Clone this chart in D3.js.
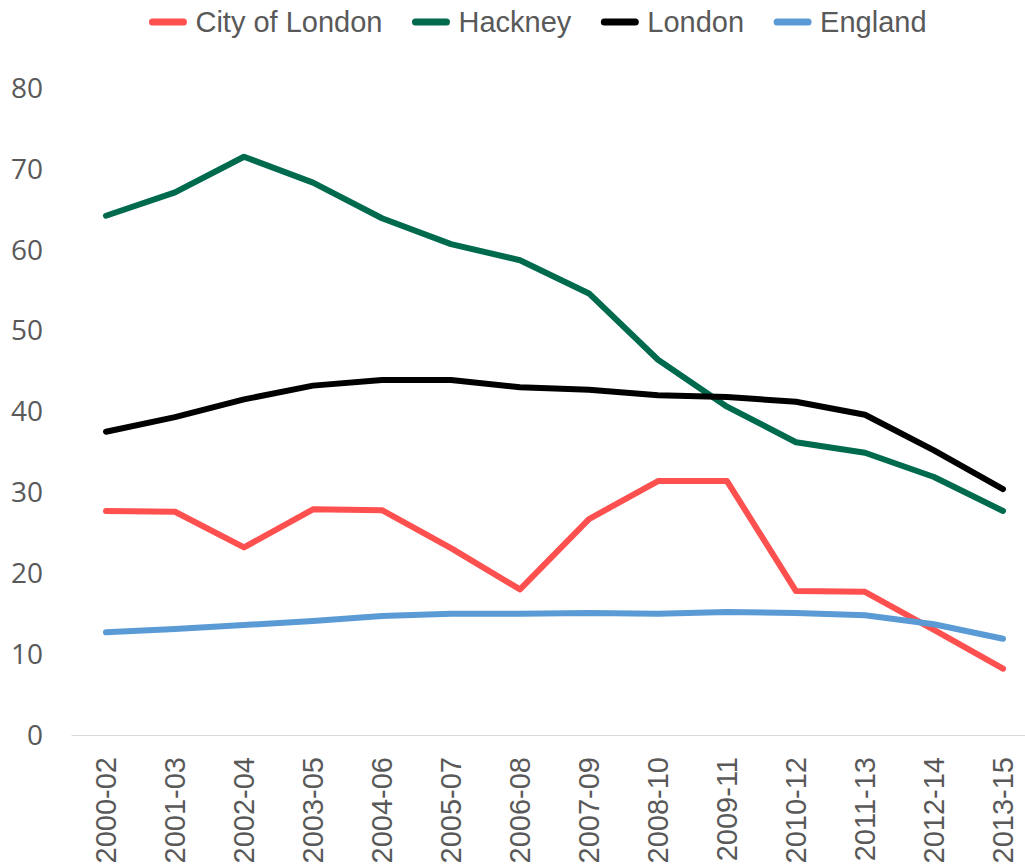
<!DOCTYPE html>
<html>
<head>
<meta charset="utf-8">
<script src="https://cdn.jsdelivr.net/npm/d3@7"></script>
<style>
  html, body { margin: 0; padding: 0; background: #fff; }
</style>
</head>
<body>
<div id="chart"></div>
<script>
// Periods on the category axis
const periods = ['2000-02', '2001-03', '2002-04', '2003-05', '2004-06', '2005-07', '2006-08',
  '2007-09', '2008-10', '2009-11', '2010-12', '2011-13', '2012-14', '2013-15'];

// Series values
const cityOfLondon = [27.7, 27.6, 23.2, 27.9, 27.8, 23.1, 18.0, 26.7, 31.4, 31.4, 17.8, 17.7, 13.0, 8.2];
const hackney = [64.2, 67.1, 71.5, 68.3, 63.9, 60.7, 58.7, 54.6, 46.4, 40.6, 36.2, 34.9, 31.9, 27.7];
const london = [37.5, 39.3, 41.5, 43.2, 43.9, 43.9, 43.0, 42.7, 42.0, 41.8, 41.2, 39.6, 35.2, 30.4];
const england = [12.7, 13.1, 13.6, 14.1, 14.7, 15.0, 15.0, 15.1, 15.0, 15.2, 15.1, 14.8, 13.7, 11.9];

const yTicks = [0, 10, 20, 30, 40, 50, 60, 70, 80];

const series = [
  { name: 'City of London', values: cityOfLondon, color: '#FF5050' },
  { name: 'Hackney', values: hackney, color: '#006A4E' },
  { name: 'London', values: london, color: '#000000' },
  { name: 'England', values: england, color: '#5B9BD5' }
];

const width = 1025, height = 865;
const textColor = '#595959';

const svg = d3.select('#chart').append('svg')
  .attr('width', width)
  .attr('height', height);

const x = d3.scalePoint()
  .domain(periods)
  .range([71.5, 1037.5])
  .padding(0.5);

const y = d3.scaleLinear()
  .domain([0, 80])
  .range([735, 88]);

// Category axis line
svg.append('line')
  .attr('x1', 71.5).attr('x2', 1037.5)
  .attr('y1', y(0) + 0.5).attr('y2', y(0) + 0.5)
  .attr('stroke', '#d9d9d9')
  .attr('stroke-width', 1);

// Y tick labels
svg.append('g')
  .selectAll('text')
  .data(yTicks)
  .enter().append('text')
  .attr('x', 43)
  .attr('y', d => y(d))
  .attr('dy', '0.35em')
  .attr('text-anchor', 'end')
  .attr('font-family', '"Open Sans", "Noto Sans", sans-serif')
  .attr('font-size', 28)
  .attr('fill', textColor)
  .text(d => d);

// X tick labels, rotated
svg.append('g')
  .selectAll('text')
  .data(periods)
  .enter().append('text')
  .attr('transform', d => `translate(${x(d)},757) rotate(-90)`)
  .attr('dy', '0.36em')
  .attr('text-anchor', 'end')
  .attr('font-family', '"Liberation Sans", Arial, sans-serif')
  .attr('font-size', 29)
  .attr('fill', textColor)
  .text(d => d);

// Lines
const line = d3.line()
  .x((d, i) => x(periods[i]))
  .y(d => y(d));

svg.append('g')
  .selectAll('path')
  .data(series)
  .enter().append('path')
  .attr('d', d => line(d.values))
  .attr('fill', 'none')
  .attr('stroke', d => d.color)
  .attr('stroke-width', 6)
  .attr('stroke-linecap', 'round')
  .attr('stroke-linejoin', 'round');

// Legend, laid out left to right then centred
const legend = svg.append('g');
const items = legend.selectAll('g')
  .data(series)
  .enter().append('g');

items.append('line')
  .attr('x1', 3).attr('x2', 34)
  .attr('y1', 22).attr('y2', 22)
  .attr('stroke', d => d.color)
  .attr('stroke-width', 7)
  .attr('stroke-linecap', 'round');

items.append('text')
  .attr('x', 46)
  .attr('y', 32)
  .attr('font-family', '"Liberation Sans", Arial, sans-serif')
  .attr('font-size', 29)
  .attr('fill', textColor)
  .text(d => d.name);

let cursor = 0;
items.each(function() {
  const g = d3.select(this);
  g.attr('transform', `translate(${cursor},0)`);
  const w = g.select('text').node().getComputedTextLength();
  cursor += 46 + w + 30;
});
const total = cursor - 30;
legend.attr('transform', `translate(${157 - 3 + (925 - 157 - total) / 2},0)`);
</script>
</body>
</html>
